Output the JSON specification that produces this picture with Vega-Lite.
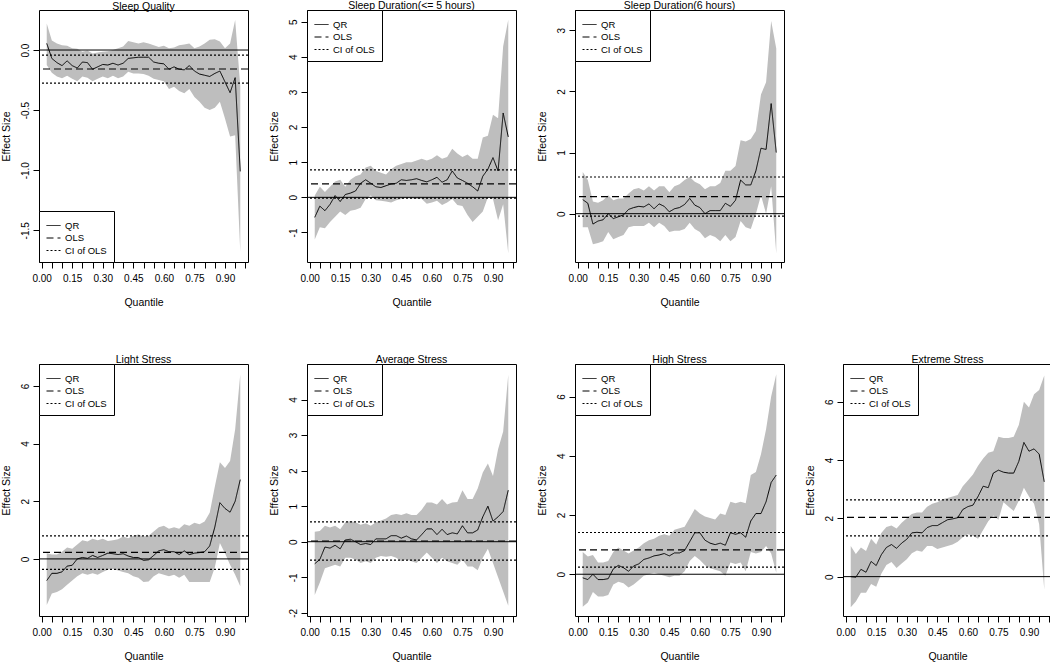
{
"$schema": "https://vega.github.io/schema/vega-lite/v6.json",
"padding": {"left": 0, "top": 0, "right": 0, "bottom": 0},
"datasets": {
"bands": [
{"p":1,"q":0.025,"qr":0.055,"lo":-0.125,"hi":0.22},{"p":1,"q":0.05,"qr":-0.07,"lo":-0.19,"hi":0.08},{"p":1,"q":0.075,"qr":-0.105,"lo":-0.22,"hi":0.055},{"p":1,"q":0.1,"qr":-0.13,"lo":-0.235,"hi":0.04},{"p":1,"q":0.125,"qr":-0.09,"lo":-0.215,"hi":0.035},{"p":1,"q":0.15,"qr":-0.13,"lo":-0.24,"hi":0.015},{"p":1,"q":0.175,"qr":-0.15,"lo":-0.26,"hi":0.01},{"p":1,"q":0.2,"qr":-0.1,"lo":-0.22,"hi":-0.015},{"p":1,"q":0.225,"qr":-0.105,"lo":-0.23,"hi":-0.005},{"p":1,"q":0.25,"qr":-0.16,"lo":-0.26,"hi":-0.03},{"p":1,"q":0.275,"qr":-0.14,"lo":-0.24,"hi":-0.02},{"p":1,"q":0.3,"qr":-0.12,"lo":-0.22,"hi":-0.015},{"p":1,"q":0.325,"qr":-0.125,"lo":-0.235,"hi":-0.01},{"p":1,"q":0.35,"qr":-0.11,"lo":-0.215,"hi":0.0},{"p":1,"q":0.375,"qr":-0.125,"lo":-0.235,"hi":0.015},{"p":1,"q":0.4,"qr":-0.11,"lo":-0.22,"hi":0.03},{"p":1,"q":0.425,"qr":-0.07,"lo":-0.18,"hi":0.075},{"p":1,"q":0.45,"qr":-0.065,"lo":-0.195,"hi":0.065},{"p":1,"q":0.475,"qr":-0.06,"lo":-0.195,"hi":0.055},{"p":1,"q":0.5,"qr":-0.06,"lo":-0.2,"hi":0.065},{"p":1,"q":0.525,"qr":-0.06,"lo":-0.215,"hi":0.055},{"p":1,"q":0.55,"qr":-0.1,"lo":-0.24,"hi":0.04},{"p":1,"q":0.575,"qr":-0.11,"lo":-0.25,"hi":0.025},{"p":1,"q":0.6,"qr":-0.115,"lo":-0.26,"hi":0.035},{"p":1,"q":0.625,"qr":-0.16,"lo":-0.325,"hi":0.015},{"p":1,"q":0.65,"qr":-0.14,"lo":-0.305,"hi":0.02},{"p":1,"q":0.675,"qr":-0.16,"lo":-0.34,"hi":0.04},{"p":1,"q":0.7,"qr":-0.165,"lo":-0.36,"hi":0.045},{"p":1,"q":0.725,"qr":-0.13,"lo":-0.325,"hi":0.055},{"p":1,"q":0.75,"qr":-0.175,"lo":-0.39,"hi":0.015},{"p":1,"q":0.775,"qr":-0.2,"lo":-0.43,"hi":0.03},{"p":1,"q":0.8,"qr":-0.21,"lo":-0.48,"hi":0.055},{"p":1,"q":0.825,"qr":-0.22,"lo":-0.5,"hi":0.085},{"p":1,"q":0.85,"qr":-0.195,"lo":-0.48,"hi":0.09},{"p":1,"q":0.875,"qr":-0.175,"lo":-0.43,"hi":0.07},{"p":1,"q":0.9,"qr":-0.265,"lo":-0.57,"hi":0.015},{"p":1,"q":0.925,"qr":-0.355,"lo":-0.72,"hi":0.055},{"p":1,"q":0.95,"qr":-0.23,"lo":-0.71,"hi":0.25},{"p":1,"q":0.975,"qr":-1.01,"lo":-1.68,"hi":-0.3},
{"p":2,"q":0.025,"qr":-0.57,"lo":-1.2,"hi":0.05},{"p":2,"q":0.05,"qr":-0.25,"lo":-0.85,"hi":0.3},{"p":2,"q":0.075,"qr":-0.38,"lo":-0.88,"hi":0.15},{"p":2,"q":0.1,"qr":-0.2,"lo":-0.7,"hi":0.3},{"p":2,"q":0.125,"qr":0.05,"lo":-0.55,"hi":0.45},{"p":2,"q":0.15,"qr":-0.12,"lo":-0.4,"hi":0.5},{"p":2,"q":0.175,"qr":0.08,"lo":-0.5,"hi":0.3},{"p":2,"q":0.2,"qr":0.12,"lo":-0.38,"hi":0.5},{"p":2,"q":0.225,"qr":0.18,"lo":-0.35,"hi":0.6},{"p":2,"q":0.25,"qr":0.4,"lo":-0.3,"hi":0.65},{"p":2,"q":0.275,"qr":0.5,"lo":-0.05,"hi":0.85},{"p":2,"q":0.3,"qr":0.4,"lo":0.05,"hi":0.9},{"p":2,"q":0.325,"qr":0.3,"lo":-0.08,"hi":0.75},{"p":2,"q":0.35,"qr":0.28,"lo":-0.1,"hi":0.7},{"p":2,"q":0.375,"qr":0.33,"lo":-0.12,"hi":0.65},{"p":2,"q":0.4,"qr":0.38,"lo":-0.15,"hi":0.8},{"p":2,"q":0.425,"qr":0.4,"lo":-0.08,"hi":0.9},{"p":2,"q":0.45,"qr":0.5,"lo":-0.05,"hi":0.95},{"p":2,"q":0.475,"qr":0.48,"lo":-0.02,"hi":1.0},{"p":2,"q":0.5,"qr":0.5,"lo":-0.03,"hi":1.0},{"p":2,"q":0.525,"qr":0.53,"lo":-0.05,"hi":1.05},{"p":2,"q":0.55,"qr":0.48,"lo":-0.05,"hi":1.1},{"p":2,"q":0.575,"qr":0.44,"lo":-0.18,"hi":1.05},{"p":2,"q":0.6,"qr":0.5,"lo":-0.15,"hi":1.1},{"p":2,"q":0.625,"qr":0.57,"lo":-0.1,"hi":1.2},{"p":2,"q":0.65,"qr":0.43,"lo":-0.22,"hi":1.1},{"p":2,"q":0.675,"qr":0.5,"lo":-0.15,"hi":1.15},{"p":2,"q":0.7,"qr":0.75,"lo":-0.05,"hi":1.38},{"p":2,"q":0.725,"qr":0.55,"lo":-0.22,"hi":1.25},{"p":2,"q":0.75,"qr":0.48,"lo":-0.25,"hi":1.15},{"p":2,"q":0.775,"qr":0.4,"lo":-0.5,"hi":1.22},{"p":2,"q":0.8,"qr":0.3,"lo":-0.7,"hi":1.1},{"p":2,"q":0.825,"qr":0.18,"lo":-0.55,"hi":1.1},{"p":2,"q":0.85,"qr":0.6,"lo":-0.4,"hi":1.7},{"p":2,"q":0.875,"qr":0.8,"lo":0.0,"hi":1.75},{"p":2,"q":0.9,"qr":1.13,"lo":-0.05,"hi":2.35},{"p":2,"q":0.925,"qr":0.75,"lo":-0.65,"hi":2.25},{"p":2,"q":0.95,"qr":2.4,"lo":-0.2,"hi":4.3},{"p":2,"q":0.975,"qr":1.72,"lo":-1.6,"hi":5.05},
{"p":3,"q":0.025,"qr":0.23,"lo":-0.22,"hi":0.68},{"p":3,"q":0.05,"qr":0.17,"lo":-0.22,"hi":0.55},{"p":3,"q":0.075,"qr":-0.17,"lo":-0.5,"hi":0.2},{"p":3,"q":0.1,"qr":-0.12,"lo":-0.48,"hi":0.18},{"p":3,"q":0.125,"qr":-0.1,"lo":-0.45,"hi":0.22},{"p":3,"q":0.15,"qr":0.0,"lo":-0.3,"hi":0.3},{"p":3,"q":0.175,"qr":-0.08,"lo":-0.42,"hi":0.22},{"p":3,"q":0.2,"qr":-0.05,"lo":-0.38,"hi":0.25},{"p":3,"q":0.225,"qr":-0.02,"lo":-0.35,"hi":0.25},{"p":3,"q":0.25,"qr":0.07,"lo":-0.22,"hi":0.33},{"p":3,"q":0.275,"qr":0.1,"lo":-0.2,"hi":0.4},{"p":3,"q":0.3,"qr":0.12,"lo":-0.2,"hi":0.42},{"p":3,"q":0.325,"qr":0.11,"lo":-0.2,"hi":0.38},{"p":3,"q":0.35,"qr":0.16,"lo":-0.15,"hi":0.45},{"p":3,"q":0.375,"qr":0.08,"lo":-0.22,"hi":0.38},{"p":3,"q":0.4,"qr":0.16,"lo":-0.15,"hi":0.45},{"p":3,"q":0.425,"qr":0.12,"lo":-0.2,"hi":0.45},{"p":3,"q":0.45,"qr":0.03,"lo":-0.3,"hi":0.35},{"p":3,"q":0.475,"qr":0.08,"lo":-0.28,"hi":0.45},{"p":3,"q":0.5,"qr":0.1,"lo":-0.28,"hi":0.48},{"p":3,"q":0.525,"qr":0.15,"lo":-0.25,"hi":0.55},{"p":3,"q":0.55,"qr":0.25,"lo":-0.15,"hi":0.6},{"p":3,"q":0.575,"qr":0.14,"lo":-0.25,"hi":0.52},{"p":3,"q":0.6,"qr":0.1,"lo":-0.3,"hi":0.48},{"p":3,"q":0.625,"qr":0.0,"lo":-0.4,"hi":0.4},{"p":3,"q":0.65,"qr":0.05,"lo":-0.35,"hi":0.45},{"p":3,"q":0.675,"qr":0.05,"lo":-0.38,"hi":0.45},{"p":3,"q":0.7,"qr":0.05,"lo":-0.45,"hi":0.5},{"p":3,"q":0.725,"qr":0.17,"lo":-0.35,"hi":0.7},{"p":3,"q":0.75,"qr":0.12,"lo":-0.45,"hi":0.7},{"p":3,"q":0.775,"qr":0.22,"lo":-0.38,"hi":0.78},{"p":3,"q":0.8,"qr":0.55,"lo":-0.12,"hi":1.2},{"p":3,"q":0.825,"qr":0.47,"lo":-0.22,"hi":1.18},{"p":3,"q":0.85,"qr":0.47,"lo":-0.25,"hi":1.22},{"p":3,"q":0.875,"qr":0.7,"lo":0.0,"hi":1.35},{"p":3,"q":0.9,"qr":1.07,"lo":0.3,"hi":1.95},{"p":3,"q":0.925,"qr":1.05,"lo":0.0,"hi":2.15},{"p":3,"q":0.95,"qr":1.8,"lo":0.45,"hi":3.15},{"p":3,"q":0.975,"qr":1.0,"lo":-0.65,"hi":2.7},
{"p":4,"q":0.025,"qr":-0.75,"lo":-1.6,"hi":0.2},{"p":4,"q":0.05,"qr":-0.5,"lo":-1.2,"hi":0.15},{"p":4,"q":0.075,"qr":-0.5,"lo":-1.15,"hi":0.15},{"p":4,"q":0.1,"qr":-0.45,"lo":-1.05,"hi":0.25},{"p":4,"q":0.125,"qr":-0.25,"lo":-0.9,"hi":0.4},{"p":4,"q":0.15,"qr":-0.22,"lo":-0.75,"hi":0.35},{"p":4,"q":0.175,"qr":0.0,"lo":-0.6,"hi":0.5},{"p":4,"q":0.2,"qr":0.05,"lo":-0.5,"hi":0.65},{"p":4,"q":0.225,"qr":0.02,"lo":-0.55,"hi":0.6},{"p":4,"q":0.25,"qr":0.12,"lo":-0.5,"hi":0.7},{"p":4,"q":0.275,"qr":0.05,"lo":-0.55,"hi":0.65},{"p":4,"q":0.3,"qr":0.12,"lo":-0.45,"hi":0.7},{"p":4,"q":0.325,"qr":0.2,"lo":-0.38,"hi":0.62},{"p":4,"q":0.35,"qr":0.18,"lo":-0.35,"hi":0.65},{"p":4,"q":0.375,"qr":0.15,"lo":-0.4,"hi":0.68},{"p":4,"q":0.4,"qr":0.18,"lo":-0.45,"hi":0.78},{"p":4,"q":0.425,"qr":0.1,"lo":-0.5,"hi":0.72},{"p":4,"q":0.45,"qr":0.05,"lo":-0.6,"hi":0.8},{"p":4,"q":0.475,"qr":0.05,"lo":-0.65,"hi":0.85},{"p":4,"q":0.5,"qr":-0.05,"lo":-0.8,"hi":0.78},{"p":4,"q":0.525,"qr":-0.03,"lo":-0.78,"hi":0.8},{"p":4,"q":0.55,"qr":0.12,"lo":-0.6,"hi":0.95},{"p":4,"q":0.575,"qr":0.28,"lo":-0.5,"hi":1.1},{"p":4,"q":0.6,"qr":0.32,"lo":-0.55,"hi":1.15},{"p":4,"q":0.625,"qr":0.25,"lo":-0.6,"hi":1.05},{"p":4,"q":0.65,"qr":0.25,"lo":-0.55,"hi":1.1},{"p":4,"q":0.675,"qr":0.15,"lo":-0.65,"hi":1.05},{"p":4,"q":0.7,"qr":0.28,"lo":-0.55,"hi":1.2},{"p":4,"q":0.725,"qr":0.15,"lo":-0.8,"hi":1.15},{"p":4,"q":0.75,"qr":0.2,"lo":-0.8,"hi":1.25},{"p":4,"q":0.775,"qr":0.22,"lo":-0.8,"hi":1.2},{"p":4,"q":0.8,"qr":0.25,"lo":-0.8,"hi":1.3},{"p":4,"q":0.825,"qr":0.45,"lo":-0.8,"hi":1.6},{"p":4,"q":0.85,"qr":1.1,"lo":-0.3,"hi":2.5},{"p":4,"q":0.875,"qr":1.95,"lo":0.55,"hi":3.35},{"p":4,"q":0.9,"qr":1.75,"lo":0.2,"hi":3.15},{"p":4,"q":0.925,"qr":1.62,"lo":-0.2,"hi":3.4},{"p":4,"q":0.95,"qr":2.0,"lo":-0.55,"hi":4.5},{"p":4,"q":0.975,"qr":2.75,"lo":-0.95,"hi":6.4},
{"p":5,"q":0.025,"qr":-0.62,"lo":-1.5,"hi":0.28},{"p":5,"q":0.05,"qr":-0.5,"lo":-1.15,"hi":0.3},{"p":5,"q":0.075,"qr":-0.15,"lo":-0.75,"hi":0.45},{"p":5,"q":0.1,"qr":-0.18,"lo":-0.7,"hi":0.4},{"p":5,"q":0.125,"qr":-0.1,"lo":-0.65,"hi":0.45},{"p":5,"q":0.15,"qr":-0.2,"lo":-0.7,"hi":0.35},{"p":5,"q":0.175,"qr":0.05,"lo":-0.45,"hi":0.55},{"p":5,"q":0.2,"qr":0.07,"lo":-0.45,"hi":0.58},{"p":5,"q":0.225,"qr":0.0,"lo":-0.5,"hi":0.55},{"p":5,"q":0.25,"qr":-0.08,"lo":-0.6,"hi":0.48},{"p":5,"q":0.275,"qr":-0.05,"lo":-0.55,"hi":0.52},{"p":5,"q":0.3,"qr":-0.08,"lo":-0.6,"hi":0.45},{"p":5,"q":0.325,"qr":0.08,"lo":-0.45,"hi":0.55},{"p":5,"q":0.35,"qr":0.08,"lo":-0.4,"hi":0.6},{"p":5,"q":0.375,"qr":0.08,"lo":-0.42,"hi":0.65},{"p":5,"q":0.4,"qr":0.17,"lo":-0.4,"hi":0.75},{"p":5,"q":0.425,"qr":0.17,"lo":-0.45,"hi":0.78},{"p":5,"q":0.45,"qr":0.1,"lo":-0.55,"hi":0.75},{"p":5,"q":0.475,"qr":0.16,"lo":-0.5,"hi":0.8},{"p":5,"q":0.5,"qr":0.08,"lo":-0.55,"hi":0.75},{"p":5,"q":0.525,"qr":0.05,"lo":-0.6,"hi":0.75},{"p":5,"q":0.55,"qr":0.2,"lo":-0.45,"hi":0.9},{"p":5,"q":0.575,"qr":0.36,"lo":-0.3,"hi":1.1},{"p":5,"q":0.6,"qr":0.36,"lo":-0.45,"hi":1.1},{"p":5,"q":0.625,"qr":0.2,"lo":-0.6,"hi":1.05},{"p":5,"q":0.65,"qr":0.35,"lo":-0.45,"hi":1.2},{"p":5,"q":0.675,"qr":0.2,"lo":-0.55,"hi":1.05},{"p":5,"q":0.7,"qr":0.25,"lo":-0.6,"hi":1.1},{"p":5,"q":0.725,"qr":0.22,"lo":-0.65,"hi":1.12},{"p":5,"q":0.75,"qr":0.45,"lo":-0.5,"hi":1.45},{"p":5,"q":0.775,"qr":0.25,"lo":-0.7,"hi":1.2},{"p":5,"q":0.8,"qr":0.25,"lo":-0.7,"hi":1.2},{"p":5,"q":0.825,"qr":0.33,"lo":-0.8,"hi":1.5},{"p":5,"q":0.85,"qr":0.7,"lo":-0.45,"hi":1.95},{"p":5,"q":0.875,"qr":1.0,"lo":-0.2,"hi":2.2},{"p":5,"q":0.9,"qr":0.58,"lo":-0.6,"hi":1.85},{"p":5,"q":0.925,"qr":0.7,"lo":-1.0,"hi":2.6},{"p":5,"q":0.95,"qr":0.85,"lo":-1.4,"hi":3.1},{"p":5,"q":0.975,"qr":1.45,"lo":-1.8,"hi":4.7},
{"p":6,"q":0.025,"qr":-0.12,"lo":-1.1,"hi":0.75},{"p":6,"q":0.05,"qr":-0.18,"lo":-0.95,"hi":0.6},{"p":6,"q":0.075,"qr":0.0,"lo":-0.6,"hi":0.65},{"p":6,"q":0.1,"qr":-0.18,"lo":-0.75,"hi":0.4},{"p":6,"q":0.125,"qr":-0.18,"lo":-0.75,"hi":0.4},{"p":6,"q":0.15,"qr":-0.15,"lo":-0.7,"hi":0.45},{"p":6,"q":0.175,"qr":0.18,"lo":-0.35,"hi":0.75},{"p":6,"q":0.2,"qr":0.3,"lo":-0.25,"hi":0.9},{"p":6,"q":0.225,"qr":0.22,"lo":-0.3,"hi":0.8},{"p":6,"q":0.25,"qr":0.1,"lo":-0.45,"hi":0.7},{"p":6,"q":0.275,"qr":0.28,"lo":-0.35,"hi":0.8},{"p":6,"q":0.3,"qr":0.35,"lo":-0.2,"hi":0.9},{"p":6,"q":0.325,"qr":0.5,"lo":-0.05,"hi":1.05},{"p":6,"q":0.35,"qr":0.55,"lo":0.0,"hi":1.15},{"p":6,"q":0.375,"qr":0.62,"lo":0.05,"hi":1.2},{"p":6,"q":0.4,"qr":0.65,"lo":0.0,"hi":1.3},{"p":6,"q":0.425,"qr":0.7,"lo":-0.05,"hi":1.35},{"p":6,"q":0.45,"qr":0.62,"lo":-0.1,"hi":1.3},{"p":6,"q":0.475,"qr":0.72,"lo":-0.05,"hi":1.5},{"p":6,"q":0.5,"qr":0.72,"lo":-0.05,"hi":1.55},{"p":6,"q":0.525,"qr":0.8,"lo":0.1,"hi":1.6},{"p":6,"q":0.55,"qr":1.1,"lo":0.45,"hi":1.9},{"p":6,"q":0.575,"qr":1.4,"lo":0.62,"hi":2.2},{"p":6,"q":0.6,"qr":1.4,"lo":0.48,"hi":2.05},{"p":6,"q":0.625,"qr":1.15,"lo":0.3,"hi":1.95},{"p":6,"q":0.65,"qr":1.05,"lo":0.2,"hi":1.9},{"p":6,"q":0.675,"qr":1.0,"lo":0.15,"hi":1.85},{"p":6,"q":0.7,"qr":1.05,"lo":0.1,"hi":2.05},{"p":6,"q":0.725,"qr":0.98,"lo":-0.05,"hi":2.0},{"p":6,"q":0.75,"qr":1.4,"lo":0.4,"hi":2.45},{"p":6,"q":0.775,"qr":1.35,"lo":0.35,"hi":2.4},{"p":6,"q":0.8,"qr":1.4,"lo":0.4,"hi":2.45},{"p":6,"q":0.825,"qr":1.25,"lo":0.1,"hi":2.4},{"p":6,"q":0.85,"qr":1.8,"lo":0.75,"hi":3.35},{"p":6,"q":0.875,"qr":2.05,"lo":0.7,"hi":3.45},{"p":6,"q":0.9,"qr":2.05,"lo":0.75,"hi":4.05},{"p":6,"q":0.925,"qr":2.45,"lo":0.95,"hi":4.9},{"p":6,"q":0.95,"qr":3.1,"lo":0.7,"hi":6.0},{"p":6,"q":0.975,"qr":3.35,"lo":0.05,"hi":6.75},
{"p":7,"q":0.025,"qr":0.0,"lo":-1.05,"hi":1.05},{"p":7,"q":0.05,"qr":-0.02,"lo":-0.85,"hi":0.78},{"p":7,"q":0.075,"qr":0.25,"lo":-0.55,"hi":1.0},{"p":7,"q":0.1,"qr":0.15,"lo":-0.55,"hi":0.88},{"p":7,"q":0.125,"qr":0.52,"lo":-0.25,"hi":1.3},{"p":7,"q":0.15,"qr":0.38,"lo":-0.35,"hi":1.1},{"p":7,"q":0.175,"qr":0.75,"lo":0.1,"hi":1.5},{"p":7,"q":0.2,"qr":1.0,"lo":0.4,"hi":1.7},{"p":7,"q":0.225,"qr":1.1,"lo":0.5,"hi":1.75},{"p":7,"q":0.25,"qr":0.97,"lo":0.3,"hi":1.65},{"p":7,"q":0.275,"qr":1.15,"lo":0.45,"hi":1.85},{"p":7,"q":0.3,"qr":1.28,"lo":0.6,"hi":2.0},{"p":7,"q":0.325,"qr":1.5,"lo":0.8,"hi":2.15},{"p":7,"q":0.35,"qr":1.52,"lo":0.9,"hi":2.2},{"p":7,"q":0.375,"qr":1.5,"lo":0.85,"hi":2.2},{"p":7,"q":0.4,"qr":1.68,"lo":1.05,"hi":2.4},{"p":7,"q":0.425,"qr":1.75,"lo":1.05,"hi":2.5},{"p":7,"q":0.45,"qr":1.75,"lo":0.95,"hi":2.55},{"p":7,"q":0.475,"qr":1.85,"lo":1.0,"hi":2.65},{"p":7,"q":0.5,"qr":1.95,"lo":1.05,"hi":2.7},{"p":7,"q":0.525,"qr":1.98,"lo":1.1,"hi":2.75},{"p":7,"q":0.55,"qr":2.02,"lo":1.2,"hi":2.8},{"p":7,"q":0.575,"qr":2.3,"lo":1.35,"hi":3.1},{"p":7,"q":0.6,"qr":2.4,"lo":1.45,"hi":3.3},{"p":7,"q":0.625,"qr":2.45,"lo":1.4,"hi":3.5},{"p":7,"q":0.65,"qr":2.75,"lo":1.3,"hi":3.8},{"p":7,"q":0.675,"qr":3.1,"lo":1.6,"hi":4.05},{"p":7,"q":0.7,"qr":3.05,"lo":1.9,"hi":4.25},{"p":7,"q":0.725,"qr":3.55,"lo":2.1,"hi":4.3},{"p":7,"q":0.75,"qr":3.65,"lo":1.95,"hi":4.8},{"p":7,"q":0.775,"qr":3.58,"lo":2.55,"hi":4.75},{"p":7,"q":0.8,"qr":3.55,"lo":2.4,"hi":4.75},{"p":7,"q":0.825,"qr":3.55,"lo":2.25,"hi":4.8},{"p":7,"q":0.85,"qr":3.95,"lo":2.6,"hi":5.2},{"p":7,"q":0.875,"qr":4.6,"lo":3.05,"hi":6.0},{"p":7,"q":0.9,"qr":4.3,"lo":2.75,"hi":5.8},{"p":7,"q":0.925,"qr":4.38,"lo":2.5,"hi":6.25},{"p":7,"q":0.95,"qr":4.2,"lo":1.8,"hi":6.4},{"p":7,"q":0.975,"qr":3.25,"lo":-0.45,"hi":6.9}
],
"ols": [
{"p":1,"type":"OLS","v":-0.158},{"p":1,"type":"CI of OLS","v":-0.042},{"p":1,"type":"CI of OLS","v":-0.275},
{"p":2,"type":"OLS","v":0.38},{"p":2,"type":"CI of OLS","v":0.78},{"p":2,"type":"CI of OLS","v":-0.02},
{"p":3,"type":"OLS","v":0.28},{"p":3,"type":"CI of OLS","v":0.6},{"p":3,"type":"CI of OLS","v":-0.04},
{"p":4,"type":"OLS","v":0.23},{"p":4,"type":"CI of OLS","v":0.8},{"p":4,"type":"CI of OLS","v":-0.36},
{"p":5,"type":"OLS","v":0.02},{"p":5,"type":"CI of OLS","v":0.56},{"p":5,"type":"CI of OLS","v":-0.52},
{"p":6,"type":"OLS","v":0.82},{"p":6,"type":"CI of OLS","v":1.41},{"p":6,"type":"CI of OLS","v":0.24},
{"p":7,"type":"OLS","v":2.03},{"p":7,"type":"CI of OLS","v":2.63},{"p":7,"type":"CI of OLS","v":1.4}
]
},
"vconcat": [
{"hconcat": [
{"title":"Sleep Quality","width":209,"height":252,"layer":[
{"data":{"name":"bands"},"transform":[{"filter":"datum.p == 1"}],"mark":{"type":"area","color":"#bebebe","opacity":1},"encoding":{"x":{"field":"q","type":"quantitative","title":"Quantile","scale":{"domain":[-0.013,1.013],"nice":false,"zero":false},"axis":{"values":[0,0.05,0.1,0.15,0.2,0.25,0.3,0.35,0.4,0.45,0.5,0.55,0.6,0.65,0.7,0.75,0.8,0.85,0.9,0.95,1],"tickCount":30,"labelOverlap":false,"labelFlush":false,"labelExpr":"(abs(datum.value*20/3 - round(datum.value*20/3)) < 0.01 && datum.value < 0.95) ? format(datum.value, '.2f') : ''"}},"y":{"field":"lo","type":"quantitative","title":"Effect Size","scale":{"domain":[-1.764,0.333],"nice":false,"zero":false},"axis":{"values":[-1.5,-1,-0.5,0],"tickCount":10,"labelOverlap":false,"labelExpr":"replace(format(datum.value, '.1f'), '\u2212', '-')"}},"y2":{"field":"hi"}}},
{"data":{"name":"bands"},"transform":[{"filter":"datum.p == 1"}],"mark":{"type":"line","color":"black","strokeWidth":1},"encoding":{"x":{"field":"q","type":"quantitative","title":"Quantile"},"y":{"field":"qr","type":"quantitative","title":"Effect Size"},"strokeDash":{"datum":"QR","type":"nominal","scale":{"domain":["QR","OLS","CI of OLS"],"range":[[1,0],[7,4],[2,2]]},"legend":{"title":null,"orient":"bottom-left"}}}},
{"data":{"name":"ols"},"transform":[{"filter":"datum.p == 1 && datum.type == 'OLS'"}],"mark":{"type":"rule","color":"black","strokeWidth":1},"encoding":{"y":{"datum":0,"type":"quantitative"}}},
{"data":{"name":"ols"},"transform":[{"filter":"datum.p == 1"}],"mark":{"type":"rule","color":"black","strokeWidth":1.2},"encoding":{"y":{"field":"v","type":"quantitative","title":"Effect Size"},"strokeDash":{"field":"type","type":"nominal","scale":{"domain":["QR","OLS","CI of OLS"],"range":[[1,0],[7,4],[2,2]]},"legend":{"title":null,"orient":"bottom-left"}}}}
]},
{"title":"Sleep Duration(<= 5 hours)","width":209,"height":252,"layer":[
{"data":{"name":"bands"},"transform":[{"filter":"datum.p == 2"}],"mark":{"type":"area","color":"#bebebe","opacity":1},"encoding":{"x":{"field":"q","type":"quantitative","title":"Quantile","scale":{"domain":[-0.013,1.013],"nice":false,"zero":false},"axis":{"values":[0,0.05,0.1,0.15,0.2,0.25,0.3,0.35,0.4,0.45,0.5,0.55,0.6,0.65,0.7,0.75,0.8,0.85,0.9,0.95,1],"tickCount":30,"labelOverlap":false,"labelFlush":false,"labelExpr":"(abs(datum.value*20/3 - round(datum.value*20/3)) < 0.01 && datum.value < 0.95) ? format(datum.value, '.2f') : ''"}},"y":{"field":"lo","type":"quantitative","title":"Effect Size","scale":{"domain":[-1.84,5.33],"nice":false,"zero":false},"axis":{"values":[-1,0,1,2,3,4,5],"tickCount":10,"labelOverlap":false,"labelExpr":"replace(format(datum.value, 'd'), '\u2212', '-')"}},"y2":{"field":"hi"}}},
{"data":{"name":"bands"},"transform":[{"filter":"datum.p == 2"}],"mark":{"type":"line","color":"black","strokeWidth":1},"encoding":{"x":{"field":"q","type":"quantitative","title":"Quantile"},"y":{"field":"qr","type":"quantitative","title":"Effect Size"},"strokeDash":{"datum":"QR","type":"nominal","scale":{"domain":["QR","OLS","CI of OLS"],"range":[[1,0],[7,4],[2,2]]},"legend":{"title":null,"orient":"top-left"}}}},
{"data":{"name":"ols"},"transform":[{"filter":"datum.p == 2 && datum.type == 'OLS'"}],"mark":{"type":"rule","color":"black","strokeWidth":1},"encoding":{"y":{"datum":0,"type":"quantitative"}}},
{"data":{"name":"ols"},"transform":[{"filter":"datum.p == 2"}],"mark":{"type":"rule","color":"black","strokeWidth":1.2},"encoding":{"y":{"field":"v","type":"quantitative","title":"Effect Size"},"strokeDash":{"field":"type","type":"nominal","scale":{"domain":["QR","OLS","CI of OLS"],"range":[[1,0],[7,4],[2,2]]},"legend":{"title":null,"orient":"top-left"}}}}
]},
{"title":"Sleep Duration(6 hours)","width":209,"height":252,"layer":[
{"data":{"name":"bands"},"transform":[{"filter":"datum.p == 3"}],"mark":{"type":"area","color":"#bebebe","opacity":1},"encoding":{"x":{"field":"q","type":"quantitative","title":"Quantile","scale":{"domain":[-0.013,1.013],"nice":false,"zero":false},"axis":{"values":[0,0.05,0.1,0.15,0.2,0.25,0.3,0.35,0.4,0.45,0.5,0.55,0.6,0.65,0.7,0.75,0.8,0.85,0.9,0.95,1],"tickCount":30,"labelOverlap":false,"labelFlush":false,"labelExpr":"(abs(datum.value*20/3 - round(datum.value*20/3)) < 0.01 && datum.value < 0.95) ? format(datum.value, '.2f') : ''"}},"y":{"field":"lo","type":"quantitative","title":"Effect Size","scale":{"domain":[-0.79,3.33],"nice":false,"zero":false},"axis":{"values":[0,1,2,3],"tickCount":10,"labelOverlap":false,"labelExpr":"replace(format(datum.value, 'd'), '\u2212', '-')"}},"y2":{"field":"hi"}}},
{"data":{"name":"bands"},"transform":[{"filter":"datum.p == 3"}],"mark":{"type":"line","color":"black","strokeWidth":1},"encoding":{"x":{"field":"q","type":"quantitative","title":"Quantile"},"y":{"field":"qr","type":"quantitative","title":"Effect Size"},"strokeDash":{"datum":"QR","type":"nominal","scale":{"domain":["QR","OLS","CI of OLS"],"range":[[1,0],[7,4],[2,2]]},"legend":{"title":null,"orient":"top-left"}}}},
{"data":{"name":"ols"},"transform":[{"filter":"datum.p == 3 && datum.type == 'OLS'"}],"mark":{"type":"rule","color":"black","strokeWidth":1},"encoding":{"y":{"datum":0,"type":"quantitative"}}},
{"data":{"name":"ols"},"transform":[{"filter":"datum.p == 3"}],"mark":{"type":"rule","color":"black","strokeWidth":1.2},"encoding":{"y":{"field":"v","type":"quantitative","title":"Effect Size"},"strokeDash":{"field":"type","type":"nominal","scale":{"domain":["QR","OLS","CI of OLS"],"range":[[1,0],[7,4],[2,2]]},"legend":{"title":null,"orient":"top-left"}}}}
]}
], "spacing": 59, "bounds": "flush", "resolve": {"scale": {"x": "independent", "y": "independent", "strokeDash": "independent"}, "legend": {"strokeDash": "independent"}}},
{"hconcat": [
{"title":"Light Stress","width":209,"height":252,"layer":[
{"data":{"name":"bands"},"transform":[{"filter":"datum.p == 4"}],"mark":{"type":"area","color":"#bebebe","opacity":1},"encoding":{"x":{"field":"q","type":"quantitative","title":"Quantile","scale":{"domain":[-0.013,1.013],"nice":false,"zero":false},"axis":{"values":[0,0.05,0.1,0.15,0.2,0.25,0.3,0.35,0.4,0.45,0.5,0.55,0.6,0.65,0.7,0.75,0.8,0.85,0.9,0.95,1],"tickCount":30,"labelOverlap":false,"labelFlush":false,"labelExpr":"(abs(datum.value*20/3 - round(datum.value*20/3)) < 0.01 && datum.value < 0.95) ? format(datum.value, '.2f') : ''"}},"y":{"field":"lo","type":"quantitative","title":"Effect Size","scale":{"domain":[-1.98,6.76],"nice":false,"zero":false},"axis":{"values":[0,2,4,6],"tickCount":10,"labelOverlap":false,"labelExpr":"replace(format(datum.value, 'd'), '\u2212', '-')"}},"y2":{"field":"hi"}}},
{"data":{"name":"bands"},"transform":[{"filter":"datum.p == 4"}],"mark":{"type":"line","color":"black","strokeWidth":1},"encoding":{"x":{"field":"q","type":"quantitative","title":"Quantile"},"y":{"field":"qr","type":"quantitative","title":"Effect Size"},"strokeDash":{"datum":"QR","type":"nominal","scale":{"domain":["QR","OLS","CI of OLS"],"range":[[1,0],[7,4],[2,2]]},"legend":{"title":null,"orient":"top-left"}}}},
{"data":{"name":"ols"},"transform":[{"filter":"datum.p == 4 && datum.type == 'OLS'"}],"mark":{"type":"rule","color":"black","strokeWidth":1},"encoding":{"y":{"datum":0,"type":"quantitative"}}},
{"data":{"name":"ols"},"transform":[{"filter":"datum.p == 4"}],"mark":{"type":"rule","color":"black","strokeWidth":1.2},"encoding":{"y":{"field":"v","type":"quantitative","title":"Effect Size"},"strokeDash":{"field":"type","type":"nominal","scale":{"domain":["QR","OLS","CI of OLS"],"range":[[1,0],[7,4],[2,2]]},"legend":{"title":null,"orient":"top-left"}}}}
]},
{"title":"Average Stress","width":209,"height":252,"layer":[
{"data":{"name":"bands"},"transform":[{"filter":"datum.p == 5"}],"mark":{"type":"area","color":"#bebebe","opacity":1},"encoding":{"x":{"field":"q","type":"quantitative","title":"Quantile","scale":{"domain":[-0.013,1.013],"nice":false,"zero":false},"axis":{"values":[0,0.05,0.1,0.15,0.2,0.25,0.3,0.35,0.4,0.45,0.5,0.55,0.6,0.65,0.7,0.75,0.8,0.85,0.9,0.95,1],"tickCount":30,"labelOverlap":false,"labelFlush":false,"labelExpr":"(abs(datum.value*20/3 - round(datum.value*20/3)) < 0.01 && datum.value < 0.95) ? format(datum.value, '.2f') : ''"}},"y":{"field":"lo","type":"quantitative","title":"Effect Size","scale":{"domain":[-2.09,5.0],"nice":false,"zero":false},"axis":{"values":[-2,-1,0,1,2,3,4],"tickCount":10,"labelOverlap":false,"labelExpr":"replace(format(datum.value, 'd'), '\u2212', '-')"}},"y2":{"field":"hi"}}},
{"data":{"name":"bands"},"transform":[{"filter":"datum.p == 5"}],"mark":{"type":"line","color":"black","strokeWidth":1},"encoding":{"x":{"field":"q","type":"quantitative","title":"Quantile"},"y":{"field":"qr","type":"quantitative","title":"Effect Size"},"strokeDash":{"datum":"QR","type":"nominal","scale":{"domain":["QR","OLS","CI of OLS"],"range":[[1,0],[7,4],[2,2]]},"legend":{"title":null,"orient":"top-left"}}}},
{"data":{"name":"ols"},"transform":[{"filter":"datum.p == 5 && datum.type == 'OLS'"}],"mark":{"type":"rule","color":"black","strokeWidth":1},"encoding":{"y":{"datum":0,"type":"quantitative"}}},
{"data":{"name":"ols"},"transform":[{"filter":"datum.p == 5"}],"mark":{"type":"rule","color":"black","strokeWidth":1.2},"encoding":{"y":{"field":"v","type":"quantitative","title":"Effect Size"},"strokeDash":{"field":"type","type":"nominal","scale":{"domain":["QR","OLS","CI of OLS"],"range":[[1,0],[7,4],[2,2]]},"legend":{"title":null,"orient":"top-left"}}}}
]},
{"title":"High Stress","width":209,"height":252,"layer":[
{"data":{"name":"bands"},"transform":[{"filter":"datum.p == 6"}],"mark":{"type":"area","color":"#bebebe","opacity":1},"encoding":{"x":{"field":"q","type":"quantitative","title":"Quantile","scale":{"domain":[-0.013,1.013],"nice":false,"zero":false},"axis":{"values":[0,0.05,0.1,0.15,0.2,0.25,0.3,0.35,0.4,0.45,0.5,0.55,0.6,0.65,0.7,0.75,0.8,0.85,0.9,0.95,1],"tickCount":30,"labelOverlap":false,"labelFlush":false,"labelExpr":"(abs(datum.value*20/3 - round(datum.value*20/3)) < 0.01 && datum.value < 0.95) ? format(datum.value, '.2f') : ''"}},"y":{"field":"lo","type":"quantitative","title":"Effect Size","scale":{"domain":[-1.41,7.1],"nice":false,"zero":false},"axis":{"values":[0,2,4,6],"tickCount":10,"labelOverlap":false,"labelExpr":"replace(format(datum.value, 'd'), '\u2212', '-')"}},"y2":{"field":"hi"}}},
{"data":{"name":"bands"},"transform":[{"filter":"datum.p == 6"}],"mark":{"type":"line","color":"black","strokeWidth":1},"encoding":{"x":{"field":"q","type":"quantitative","title":"Quantile"},"y":{"field":"qr","type":"quantitative","title":"Effect Size"},"strokeDash":{"datum":"QR","type":"nominal","scale":{"domain":["QR","OLS","CI of OLS"],"range":[[1,0],[7,4],[2,2]]},"legend":{"title":null,"orient":"top-left"}}}},
{"data":{"name":"ols"},"transform":[{"filter":"datum.p == 6 && datum.type == 'OLS'"}],"mark":{"type":"rule","color":"black","strokeWidth":1},"encoding":{"y":{"datum":0,"type":"quantitative"}}},
{"data":{"name":"ols"},"transform":[{"filter":"datum.p == 6"}],"mark":{"type":"rule","color":"black","strokeWidth":1.2},"encoding":{"y":{"field":"v","type":"quantitative","title":"Effect Size"},"strokeDash":{"field":"type","type":"nominal","scale":{"domain":["QR","OLS","CI of OLS"],"range":[[1,0],[7,4],[2,2]]},"legend":{"title":null,"orient":"top-left"}}}}
]},
{"title":"Extreme Stress","width":209,"height":252,"layer":[
{"data":{"name":"bands"},"transform":[{"filter":"datum.p == 7"}],"mark":{"type":"area","color":"#bebebe","opacity":1},"encoding":{"x":{"field":"q","type":"quantitative","title":"Quantile","scale":{"domain":[-0.013,1.013],"nice":false,"zero":false},"axis":{"values":[0,0.05,0.1,0.15,0.2,0.25,0.3,0.35,0.4,0.45,0.5,0.55,0.6,0.65,0.7,0.75,0.8,0.85,0.9,0.95,1],"tickCount":30,"labelOverlap":false,"labelFlush":false,"labelExpr":"(abs(datum.value*20/3 - round(datum.value*20/3)) < 0.01 && datum.value < 0.95) ? format(datum.value, '.2f') : ''"}},"y":{"field":"lo","type":"quantitative","title":"Effect Size","scale":{"domain":[-1.35,7.29],"nice":false,"zero":false},"axis":{"values":[0,2,4,6],"tickCount":10,"labelOverlap":false,"labelExpr":"replace(format(datum.value, 'd'), '\u2212', '-')"}},"y2":{"field":"hi"}}},
{"data":{"name":"bands"},"transform":[{"filter":"datum.p == 7"}],"mark":{"type":"line","color":"black","strokeWidth":1},"encoding":{"x":{"field":"q","type":"quantitative","title":"Quantile"},"y":{"field":"qr","type":"quantitative","title":"Effect Size"},"strokeDash":{"datum":"QR","type":"nominal","scale":{"domain":["QR","OLS","CI of OLS"],"range":[[1,0],[7,4],[2,2]]},"legend":{"title":null,"orient":"top-left"}}}},
{"data":{"name":"ols"},"transform":[{"filter":"datum.p == 7 && datum.type == 'OLS'"}],"mark":{"type":"rule","color":"black","strokeWidth":1},"encoding":{"y":{"datum":0,"type":"quantitative"}}},
{"data":{"name":"ols"},"transform":[{"filter":"datum.p == 7"}],"mark":{"type":"rule","color":"black","strokeWidth":1.2},"encoding":{"y":{"field":"v","type":"quantitative","title":"Effect Size"},"strokeDash":{"field":"type","type":"nominal","scale":{"domain":["QR","OLS","CI of OLS"],"range":[[1,0],[7,4],[2,2]]},"legend":{"title":null,"orient":"top-left"}}}}
]}
], "spacing": 59, "bounds": "flush", "resolve": {"scale": {"x": "independent", "y": "independent", "strokeDash": "independent"}, "legend": {"strokeDash": "independent"}}}
],
"spacing": 46,
"resolve": {"scale": {"x": "independent", "y": "independent", "strokeDash": "independent"}, "legend": {"strokeDash": "independent"}},
"config": {
"font": "'Liberation Sans Narrow', 'Liberation Sans', sans-serif",
"view": {"stroke": "black", "strokeWidth": 1},
"axis": {"domain": false, "grid": false, "tickColor": "black", "tickSize": 6, "labelColor": "black", "titleColor": "black", "labelFontSize": 10, "titleFontSize": 10.5, "titleFontWeight": "normal"},
"axisX": {"labelPadding": 5, "titlePadding": 14, "labelFlush": false, "labelOverlap": false},
"axisY": {"labelAngle": -90, "labelPadding": 3, "titlePadding": 9, "labelOverlap": false},
"title": {"fontSize": 10.5, "fontWeight": "normal", "offset": -2, "color": "black"},
"legend": {"offset": 0, "padding": 7, "strokeColor": "black", "fillColor": "white", "symbolType": "stroke", "symbolSize": 196, "symbolStrokeWidth": 1, "symbolStrokeColor": "black", "labelFontSize": 9.5, "labelColor": "black", "labelOffset": 4, "rowPadding": 0.5}
}
}
